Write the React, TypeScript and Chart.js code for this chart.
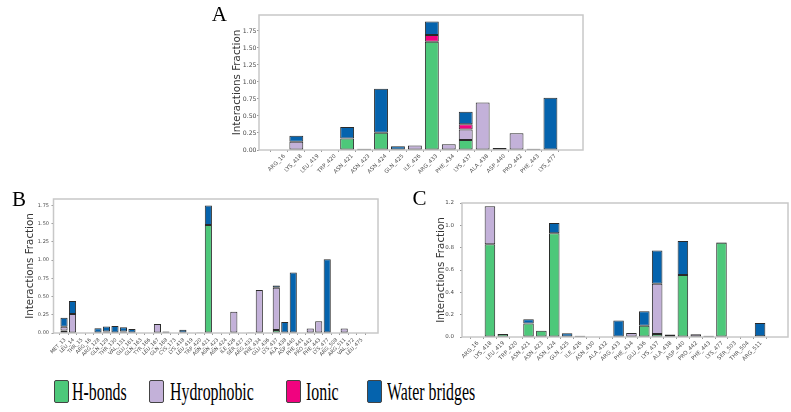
import React, { useEffect, useRef } from 'react';
import { Chart, registerables } from 'chart.js';

Chart.register(...registerables);

// ---------- Panel A ----------
const A_LABELS = ['ARG_16', 'LYS_418', 'LEU_419', 'TRP_420', 'ASN_421', 'ASN_423', 'ASN_424', 'GLN_425', 'ILE_426', 'ARG_433', 'PHE_434', 'LYS_437', 'ALA_438', 'ASP_440', 'PRO_442', 'PHE_443', 'LYS_477'];
const A_HBONDS = [0, 0, 0, 0, 0.17, 0, 0.255, 0, 0, 1.59, 0, 0.147, 0, 0, 0, 0, 0];
const A_HYDROPHOBIC = [0, 0.12, 0, 0, 0, 0, 0, 0, 0.065, 0, 0.085, 0.153, 0.7, 0, 0.245, 0.02, 0];
const A_IONIC = [0, 0, 0, 0, 0, 0, 0, 0, 0, 0.1, 0, 0.077, 0, 0, 0, 0, 0];
const A_WATER = [0, 0.09, 0, 0, 0.17, 0.02, 0.645, 0.055, 0, 0.2, 0, 0.187, 0, 0.03, 0, 0, 0.77];

// ---------- Panel B ----------
const B_LABELS = ['MET_13', 'LEU_14', 'THR_15', 'ARG_16', 'ARG_128', 'GLN_129', 'THR_130', 'VAL_131', 'GLU_161', 'GLN_163', 'TYR_166', 'LEU_167', 'GLN_168', 'CYS_173', 'LYS_418', 'LEU_419', 'TRP_420', 'ASN_421', 'ASN_423', 'ASN_424', 'ILE_426', 'SER_427', 'ARG_433', 'PHE_434', 'GLU_436', 'LYS_437', 'ALA_438', 'ASP_440', 'PHE_441', 'PRO_442', 'PHE_443', 'LYS_477', 'ARG_508', 'ARG_511', 'VAL_472', 'LEU_475'];
const B_HBONDS = [0.035, 0, 0, 0, 0, 0.02, 0, 0, 0, 0, 0, 0, 0, 0, 0, 0, 0, 1.48, 0, 0, 0, 0, 0, 0, 0, 0.04, 0, 0, 0, 0, 0, 0, 0, 0, 0, 0];
const B_HYDROPHOBIC = [0.05, 0.26, 0, 0, 0, 0, 0, 0.02, 0, 0, 0, 0.125, 0, 0, 0, 0, 0, 0, 0, 0, 0.29, 0, 0, 0.59, 0, 0.58, 0, 0, 0, 0.06, 0.16, 0, 0, 0.06, 0, 0];
const B_IONIC = [0, 0, 0, 0, 0, 0, 0, 0, 0, 0, 0, 0, 0, 0, 0, 0, 0, 0, 0, 0, 0, 0, 0, 0, 0, 0, 0, 0, 0, 0, 0, 0, 0, 0, 0, 0];
const B_WATER = [0.125, 0.18, 0, 0, 0.065, 0.07, 0.095, 0.06, 0.055, 0, 0, 0, 0.02, 0, 0.045, 0, 0.01, 0.27, 0, 0, 0, 0, 0.01, 0, 0, 0.03, 0.15, 0.83, 0, 0, 0, 1.01, 0, 0, 0, 0];

// ---------- Panel C ----------
const C_LABELS = ['ARG_16', 'LYS_418', 'LEU_419', 'TRP_420', 'ASN_421', 'ASN_423', 'ASN_424', 'GLN_425', 'ILE_426', 'ASN_430', 'ALA_432', 'ARG_433', 'PHE_434', 'GLU_436', 'LYS_437', 'ALA_438', 'ASP_440', 'PRO_442', 'PHE_443', 'LYS_477', 'SER_503', 'THR_504', 'ARG_511'];
const C_HBONDS = [0, 0.83, 0.027, 0, 0.12, 0.056, 0.93, 0, 0, 0, 0, 0, 0, 0.1, 0.027, 0, 0.555, 0, 0, 0.843, 0, 0, 0.006];
const C_HYDROPHOBIC = [0, 0.34, 0, 0, 0, 0, 0, 0, 0.012, 0, 0, 0, 0.035, 0, 0.45, 0.022, 0, 0.025, 0.012, 0, 0, 0, 0];
const C_IONIC = [0, 0, 0, 0, 0, 0, 0, 0, 0, 0, 0, 0, 0, 0, 0, 0, 0, 0, 0, 0, 0, 0, 0];
const C_WATER = [0, 0, 0, 0, 0.04, 0, 0.09, 0.033, 0, 0, 0, 0.148, 0, 0.13, 0.298, 0, 0.305, 0, 0, 0.006, 0, 0, 0.12];

const SERIES_NAMES = ['H-bonds', 'Hydrophobic', 'Ionic', 'Water bridges'];
const Y_TITLE = 'Interactions Fraction';
const PANEL_LETTERS = ['A', 'B', 'C'];

const GREEN = '#4dc87a';
const PURPLE = '#c3b1d9';
const PINK = '#f0037f';
const BLUE = '#0563ad';
const EDGE = '#2a2a2a';
const FRAME = '#c8c8c8';
const TICK = '#9a9a9a';
const TXT = '#4a4a4a';
const COLORS = [GREEN, PURPLE, PINK, BLUE];

type Cfg = {
  labels: string[];
  series: number[][];
  left: number; top: number; width: number; height: number;
  area: [number, number, number, number];
  xMin: number; xMax: number;
  yMax: number; yStep: number; dec: number;
  yTitleX: number;
  xFont: number; yFont: number;
  xOffset: number; xPad: number; yPad: number;
  barPct: number;
};

const framePlugin = {
  id: 'frameBox',
  beforeDatasetsDraw(chart: any) {
    const { ctx, chartArea: a } = chart;
    ctx.save();
    ctx.strokeStyle = FRAME;
    ctx.lineWidth = 1.5;
    ctx.strokeRect(a.left, a.top, a.right - a.left, a.bottom - a.top);
    ctx.restore();
  },
};

function Panel({ cfg }: { cfg: Cfg }) {
  const ref = useRef<HTMLCanvasElement>(null);
  useEffect(() => {
    const c = cfg;
    const [al, at, ar, ab] = c.area;
    const padTop = at - c.top;
    const padRight = c.left + c.width - ar;
    const yW = al - c.left;
    const xH = c.top + c.height - ab;
    const titleSize = 10.3;
    const titleLH = titleSize * 1.2;
    const datasets = SERIES_NAMES.map((name, k) => ({
      label: name,
      data: c.series[k].map((y, x) => ({ x, y })),
      backgroundColor: COLORS[k],
      borderColor: EDGE,
      borderWidth: 1,
      borderSkipped: false,
      barPercentage: c.barPct,
      categoryPercentage: 1,
    }));
    const chart = new Chart(ref.current as HTMLCanvasElement, {
      type: 'bar',
      data: { datasets } as any,
      options: {
        animation: false,
        responsive: false,
        devicePixelRatio: 1,
        layout: { padding: { top: padTop, right: padRight, left: 0, bottom: 0 } },
        plugins: { legend: { display: false }, tooltip: { enabled: false } },
        scales: {
          x: {
            type: 'linear',
            stacked: true,
            min: c.xMin,
            max: c.xMax,
            bounds: 'data',
            afterBuildTicks: (s: any) => {
              s.ticks = c.labels.map((_, i) => ({ value: i }));
            },
            afterFit: (s: any) => {
              s.height = xH;
            },
            grid: { drawOnChartArea: false, drawTicks: true, tickLength: 2, color: TICK },
            border: { display: false },
            ticks: {
              autoSkip: false,
              minRotation: 45,
              maxRotation: 45,
              padding: c.xPad,
              labelOffset: c.xOffset,
              color: TXT,
              font: { family: 'DejaVu Sans', size: c.xFont },
              callback: (v: any) => c.labels[Math.round(Number(v))] ?? '',
            },
          },
          y: {
            type: 'linear',
            stacked: true,
            min: 0,
            max: c.yMax,
            bounds: 'data',
            afterFit: (s: any) => {
              s.width = yW;
            },
            grid: { drawOnChartArea: false, drawTicks: true, tickLength: 2, color: TICK },
            border: { display: false },
            ticks: {
              stepSize: c.yStep,
              includeBounds: false,
              padding: c.yPad,
              color: TXT,
              font: { family: 'DejaVu Sans', size: c.yFont },
              callback: (v: any) => Number(v).toFixed(c.dec),
            },
            title: {
              display: true,
              text: Y_TITLE,
              color: '#333',
              font: { family: 'DejaVu Sans', size: titleSize },
              padding: { top: c.yTitleX - c.left - titleLH / 2, bottom: 0 },
            },
          },
        },
      } as any,
      plugins: [framePlugin],
    });
    return () => chart.destroy();
  }, [cfg]);
  return (
    <canvas
      ref={ref}
      width={cfg.width}
      height={cfg.height}
      style={{ position: 'absolute', left: cfg.left, top: cfg.top, width: cfg.width, height: cfg.height }}
    />
  );
}

const CFG_A: Cfg = {
  labels: A_LABELS,
  series: [A_HBONDS, A_HYDROPHOBIC, A_IONIC, A_WATER],
  left: 190, top: 0, width: 400, height: 190,
  area: [259, 15, 583, 150],
  xMin: -0.64, xMax: 17.36,
  yMax: 1.985, yStep: 0.25, dec: 2,
  yTitleX: 237,
  xFont: 5.5, yFont: 6.2,
  xOffset: 5, xPad: 1, yPad: 0.5,
  barPct: 0.82,
};

const CFG_B: Cfg = {
  labels: B_LABELS,
  series: [B_HBONDS, B_HYDROPHOBIC, B_IONIC, B_WATER],
  left: 0, top: 180, width: 395, height: 190,
  area: [53.5, 199, 378, 333],
  xMin: -0.71, xMax: 36.45,
  yMax: 1.8375, yStep: 0.25, dec: 2,
  yTitleX: 30,
  xFont: 5, yFont: 5,
  xOffset: 1, xPad: 2, yPad: 2.5,
  barPct: 0.84,
};

const CFG_C: Cfg = {
  labels: C_LABELS,
  series: [C_HBONDS, C_HYDROPHOBIC, C_IONIC, C_WATER],
  left: 400, top: 180, width: 391, height: 190,
  area: [462, 203, 788, 337],
  xMin: -0.62, xMax: 23.62,
  yMax: 1.2, yStep: 0.2, dec: 1,
  yTitleX: 441,
  xFont: 5.5, yFont: 5.5,
  xOffset: 1, xPad: 1, yPad: 6,
  barPct: 0.82,
};

const LETTER_POS = [
  { left: 211.7, top: 4.1 },
  { left: 12, top: 189.4 },
  { left: 412.4, top: 188.1 },
];

const LEGEND_POS = [
  { box: 54, text: 72 },
  { box: 149, text: 170 },
  { box: 286, text: 306 },
  { box: 367, text: 387 },
];

export default function App() {
  return (
    <div style={{ position: 'fixed', left: 0, top: 0, width: 791, height: 412, background: '#fff', overflow: 'hidden' }}>
      <Panel cfg={CFG_A} />
      <Panel cfg={CFG_B} />
      <Panel cfg={CFG_C} />
      {PANEL_LETTERS.map((l, i) => (
        <div
          key={l}
          style={{
            position: 'absolute',
            left: LETTER_POS[i].left,
            top: LETTER_POS[i].top,
            fontFamily: '"Liberation Serif", serif',
            fontSize: 21,
            lineHeight: '21px',
            color: '#000',
          }}
        >
          {l}
        </div>
      ))}
      {SERIES_NAMES.map((name, i) => (
        <React.Fragment key={name}>
          <div
            style={{
              position: 'absolute',
              left: LEGEND_POS[i].box,
              top: 380,
              width: 15,
              height: 23,
              boxSizing: 'border-box',
              background: COLORS[i],
              border: '1px solid #444',
              borderRadius: 2,
            }}
          />
          <div
            style={{
              position: 'absolute',
              left: LEGEND_POS[i].text,
              top: 378.6,
              fontFamily: '"Liberation Serif", serif',
              fontSize: 25,
              lineHeight: '25px',
              whiteSpace: 'nowrap',
              color: '#000',
              transform: 'scaleX(0.635)',
              transformOrigin: 'left center',
            }}
          >
            {name}
          </div>
        </React.Fragment>
      ))}
    </div>
  );
}
